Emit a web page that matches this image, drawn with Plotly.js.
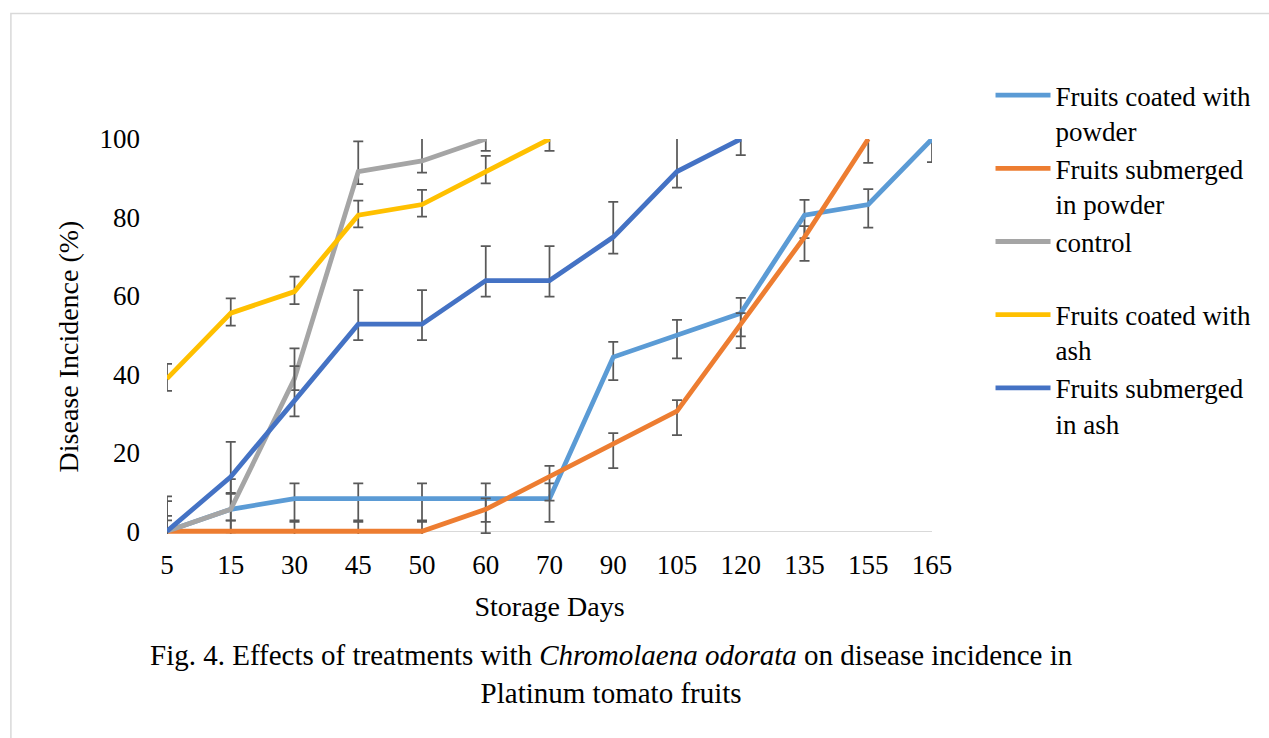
<!DOCTYPE html>
<html>
<head>
<meta charset="utf-8">
<script src="https://cdn.plot.ly/plotly-3.0.1.min.js"></script>
<style>
  html, body { margin: 0; padding: 0; background: #fff; }
  #chart { width: 1269px; height: 738px; }
</style>
</head>
<body>
<div id="chart"></div>
<script>
// Categories (storage days)
const days = ['5','15','30','45','50','60','70','90','105','120','135','155','165'];

// Series values (% disease incidence)
const coatedPowder    = [0, 5.6, 8.3, 8.3, 8.3, 8.3, 8.3, 44.4, 50, 55.6, 80.6, 83.3, 100];
const submergedPowder = [0, 0, 0, 0, 0, 5.6, 13.9, 22.2, 30.6, 52.8, 75, 100, null];
const control         = [0, 5.6, 38.9, 91.7, 94.4, 100, null, null, null, null, null, null, null];
const coatedAsh       = [38.9, 55.6, 61.1, 80.6, 83.3, 91.7, 100, null, null, null, null, null, null];
const submergedAsh    = [0, 13.9, 33.3, 52.8, 52.8, 63.9, 63.9, 75, 91.7, 100, null, null, null];

// Error bars (plus / minus)
const coatedPowderErrPlus     = [3.9, 3.9, 3.9, 3.9, 3.9, 3.9, 3.9, 3.9, 3.9, 3.9, 3.9, 3.9, 3.9];
const coatedPowderErrMinus    = [5.9, 5.9, 5.9, 5.9, 5.9, 5.9, 5.9, 5.9, 5.9, 5.9, 5.9, 5.9, 5.9];
const submergedPowderErrPlus  = [2.8, 2.8, 2.8, 2.8, 2.8, 2.8, 2.8, 2.8, 2.8, 2.8, 2.8, 2.8, 0];
const submergedPowderErrMinus = [6.1, 6.1, 6.1, 6.1, 6.1, 6.1, 6.1, 6.1, 6.1, 6.1, 6.1, 6.1, 0];
const controlErrPlus          = [7.7, 7.7, 7.7, 7.7, 7.7, 7.7, 0, 0, 0, 0, 0, 0, 0];
const controlErrMinus         = [2.9, 2.9, 2.9, 3.2, 3.0, 3.0, 0, 0, 0, 0, 0, 0, 0];
const coatedAshErrPlus        = [3.8, 3.8, 3.8, 3.7, 3.7, 4.0, 3.8, 0, 0, 0, 0, 0, 0];
const coatedAshErrMinus       = [3.1, 3.2, 3.2, 3.1, 3.1, 3.0, 3.0, 0, 0, 0, 0, 0, 0];
const submergedAshErrPlus     = [8.9, 8.9, 8.8, 8.7, 8.7, 8.8, 8.8, 9.0, 9.0, 9.0, 0, 0, 0];
const submergedAshErrMinus    = [4.1, 4.1, 4.0, 4.1, 4.1, 4.1, 4.1, 4.2, 4.1, 4.1, 0, 0, 0];

const yTicks = [0, 20, 40, 60, 80, 100];

const FONT = 'Liberation Serif, Times New Roman, serif';
const errColor = '#595959';

function series(name, y, plus, minus, color) {
  return {
    type: 'scatter', mode: 'lines', name: name,
    x: days, y: y,
    line: { color: color, width: 4.8 },
    connectgaps: false,
    error_y: { type: 'data', symmetric: false, array: plus, arrayminus: minus,
               color: errColor, thickness: 1.75, width: 5 },
    hoverinfo: 'x+y+name'
  };
}

const data = [
  series('Fruits coated with<br>powder', coatedPowder, coatedPowderErrPlus, coatedPowderErrMinus, '#5B9BD5'),
  series('Fruits submerged<br>in powder', submergedPowder, submergedPowderErrPlus, submergedPowderErrMinus, '#ED7D31'),
  series('control<br>&nbsp;', control, controlErrPlus, controlErrMinus, '#A5A5A5'),
  series('Fruits coated with<br>ash', coatedAsh, coatedAshErrPlus, coatedAshErrMinus, '#FFC000'),
  series('Fruits submerged<br>in ash', submergedAsh, submergedAshErrPlus, submergedAshErrMinus, '#4472C4')
];

const layout = {
  width: 1269, height: 738,
  margin: { l: 167, r: 335, t: 139, b: 204, pad: 0 },
  paper_bgcolor: '#ffffff', plot_bgcolor: 'rgba(0,0,0,0)',
  font: { family: FONT, size: 28, color: '#000000' },
  showlegend: true,
  legend: {
    x: 1.0765, xanchor: 'left', y: 1.172, yanchor: 'top',
    valign: 'top', itemwidth: 55,
    font: { family: FONT, size: 27, color: '#000000' },
    bgcolor: 'rgba(0,0,0,0)', traceorder: 'normal'
  },
  xaxis: {
    type: 'category', range: [0, 12],
    showgrid: false, showline: false, zeroline: false,
    ticks: '', ticklabelstandoff: 12,
    tickfont: { family: FONT, size: 27, color: '#000000' },
    title: { text: 'Storage Days', standoff: 17, font: { family: FONT, size: 28, color: '#000000' } },
    fixedrange: true
  },
  yaxis: {
    range: [-0.7, 100], tickvals: yTicks, ticktext: yTicks.map(String),
    showgrid: false, showline: false,
    zeroline: true, zerolinecolor: '#D9D9D9', zerolinewidth: 1.5,
    ticks: '', ticklabelstandoff: 26,
    tickfont: { family: FONT, size: 27, color: '#000000' },
    title: { text: '' },
    fixedrange: true
  },
  shapes: [{
    type: 'rect', xref: 'paper', yref: 'paper',
    x0: (10.5 - 167) / 767, x1: 1.5, y0: -0.6, y1: (533.7 - 13.5) / 394.7,
    line: { color: '#D9D9D9', width: 1.5 }, fillcolor: 'rgba(0,0,0,0)', layer: 'below'
  }],
  annotations: [{
    xref: 'paper', yref: 'paper', x: (612.5 - 167) / 767, y: (533.7 - 674) / 394.7,
    xanchor: 'center', yanchor: 'middle', showarrow: false, align: 'center',
    text: 'Fig. 4. Effects of treatments with <i>Chromolaena odorata</i> on disease incidence in<br>Platinum tomato fruits',
    font: { family: FONT, size: 29, color: '#000000' }
  }, {
    xref: 'paper', yref: 'paper', x: (68 - 167) / 767, y: (533.7 - 346) / 394.7,
    xanchor: 'center', yanchor: 'middle', showarrow: false, textangle: -90,
    text: 'Disease Incidence (%)',
    font: { family: FONT, size: 28, color: '#000000' }
  }]
};

Plotly.newPlot('chart', data, layout, { displayModeBar: false, staticPlot: true });
</script>
</body>
</html>
